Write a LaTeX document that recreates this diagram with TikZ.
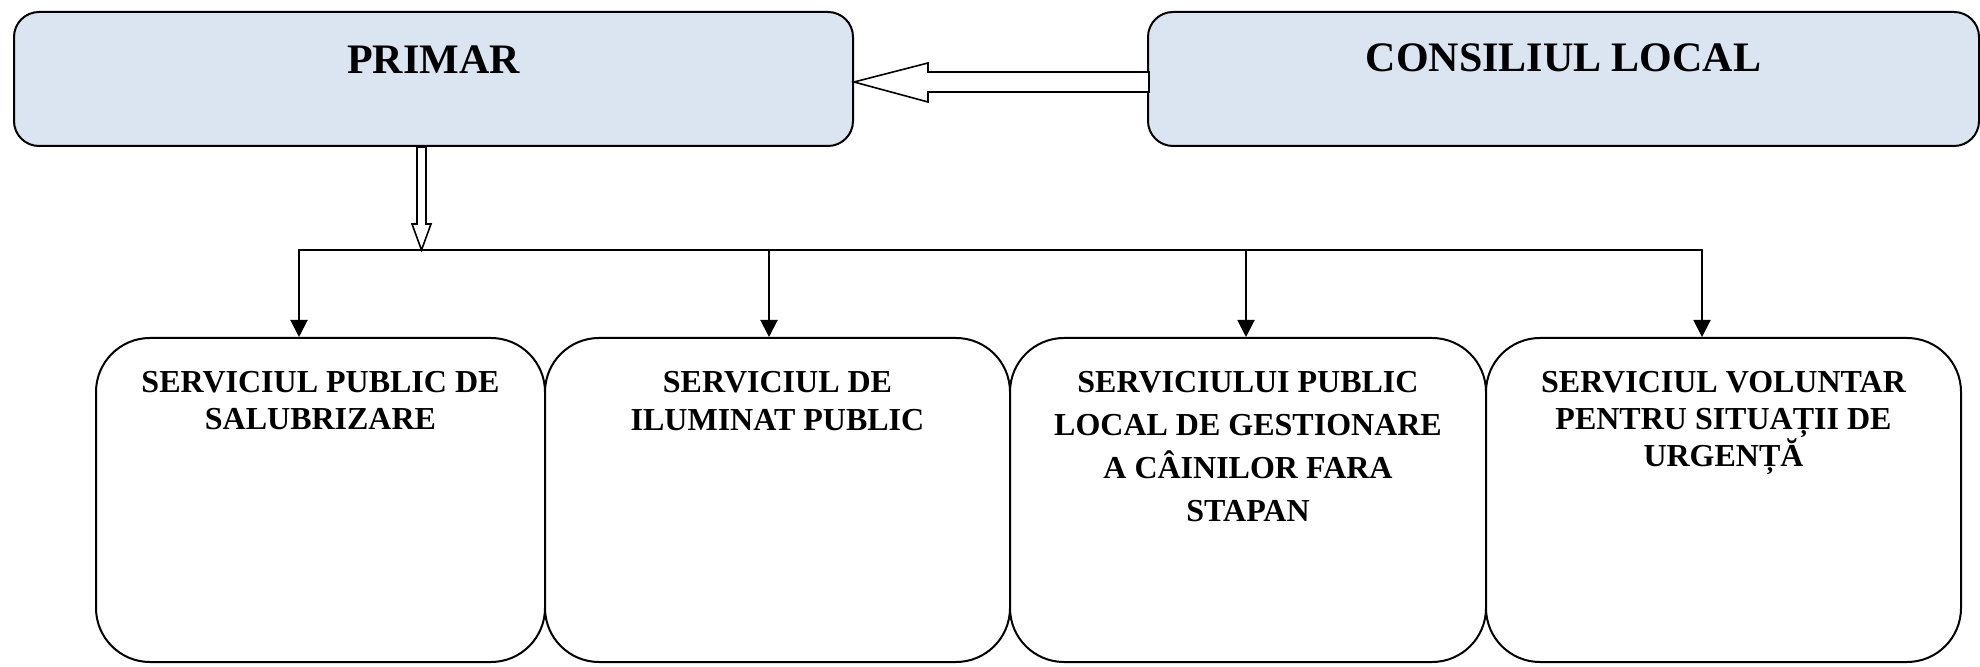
\documentclass[tikz,border=0pt]{standalone}
\usepackage{fontspec}
\setmainfont{Liberation Serif}
\usetikzlibrary{positioning,arrows.meta,calc}
\definecolor{boxblue}{HTML}{DBE5F1}
\tikzset{
	headbox/.style={draw,line width=1pt,fill=boxblue,rounded corners=12.5pt,minimum width=#1,minimum height=67pt,inner sep=0pt},
	servbox/.style={draw,line width=1pt,fill=white,rounded corners=27pt,minimum width=#1,minimum height=162pt,inner sep=0pt},
	headtext/.style={font=\fontsize{21}{25}\selectfont\bfseries,inner sep=0pt},
	servtext/.style={font=\fontsize{16}{#1}\selectfont\bfseries,align=center,inner sep=0pt},
	blockarrow/.style={draw,line width=.8pt,fill=white,line join=miter},
}
\begin{document}
\begin{tikzpicture}[x=.5pt,y=-.5pt,line cap=round,line join=round,>={Triangle[width=8.5pt,length=8.5pt]}]
	\useasboundingbox (0,0) rectangle (1980,667);
	% conducere
	\node[headbox=419.5pt] (primar) at (433.5,79) {};
	\node[headbox=415.5pt] (consiliu) at (1563.5,79) {};
	\node[headtext,below=17pt of primar.north] (tprimar) {PRIMAR};
	\node[headtext,below=16pt of consiliu.north] (tconsiliu) {CONSILIUL LOCAL};
	% servicii
	\node[servbox=224.5pt] (s1) at (320.5,500) {};
	\node[servbox=232.5pt] (s2) at (777.5,500) {};
	\node[servbox=238pt] (s3) at (1248,500) {};
	\node[servbox=237.5pt] (s4) at (1723.5,500) {};
	\node[servtext=18.5pt,below=17pt of s1.north] (t1) {SERVICIUL PUBLIC DE\\SALUBRIZARE};
	\node[servtext=19pt,below=17pt of s2.north] (t2) {SERVICIUL DE\\ILUMINAT PUBLIC};
	\node[servtext=21.5pt,below=17pt of s3.north] (t3) {SERVICIULUI PUBLIC\\LOCAL DE GESTIONARE\\A CÂINILOR FARA\\STAPAN};
	\node[servtext=18.5pt,below=17pt of s4.north] (t4) {SERVICIUL VOLUNTAR\\PENTRU SITUAȚII DE\\URGENȚĂ};
	% sageti bloc
	\coordinate (tipL) at ($(primar.east)+(0,3)$);
	\draw[blockarrow] (tipL) -- ++(74,-19) -- ++(0,9) -- ++(221,0) -- ++(0,20) -- ++(-221,0) -- ++(0,10) -- cycle;
	\coordinate (dn) at ($(primar.south)+(-12,0)$);
	\draw[blockarrow] ($(dn)+(-4.5,0)$) -- ++(0,77) -- ++(-5,0) -- ++(9.5,26) -- ++(9.5,-26) -- ++(-5,0) -- ++(0,-77) -- cycle;
	% magistrala
	\coordinate (a1) at (299,250);
	\coordinate (a2) at (769,250);
	\coordinate (a3) at (1246,250);
	\coordinate (a4) at (1702,250);
	\draw[line width=1pt] (a1) -- (a4);
	\foreach \i in {1,...,4}
		\draw[->,line width=1pt] (a\i) -- (a\i |- s\i.north);
\end{tikzpicture}
\end{document}
